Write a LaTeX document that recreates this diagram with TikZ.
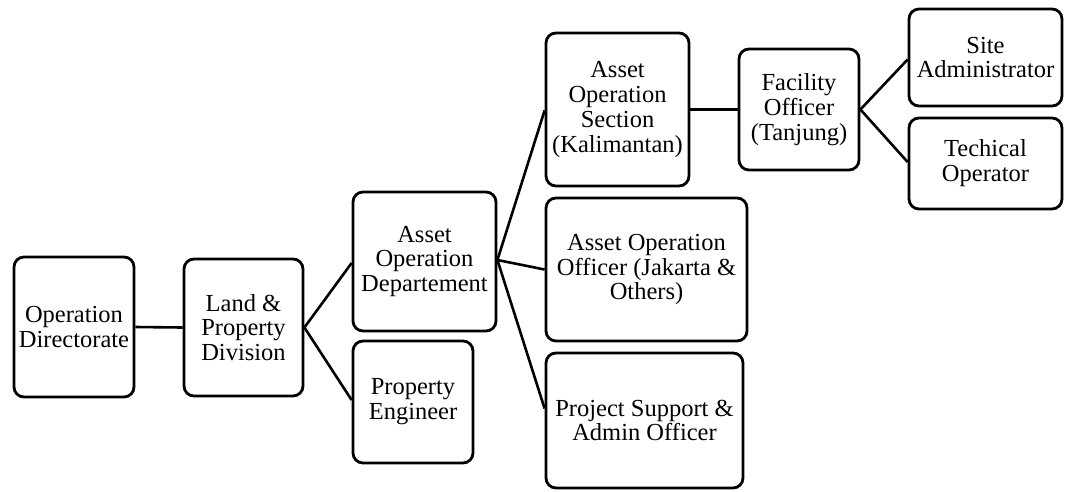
\documentclass[tikz,border=0pt]{standalone}
\usepackage{fontspec}
\setmainfont{Liberation Serif}
\begin{document}
\begin{tikzpicture}[x=1pt,y=-1pt,
  box/.style={draw=black,line width=2.8pt,rounded corners=10pt,align=center,inner sep=0pt,
    font=\fontsize{24.5}{24.8}\selectfont},
  link/.style={draw=black,line width=2.6pt}]
\useasboundingbox (0,0) rectangle (1065,491);
\node[box,minimum width=120,minimum height=140] (od) at (74,327) {Operation\\Directorate};
\node[box,minimum width=119,minimum height=137] (lpd) at (243.5,327.5) {Land \&\\Property\\Division};
\node[box,minimum width=143,minimum height=139] (aod) at (424.5,261.5) {Asset\\Operation\\Departement};
\node[box,minimum width=120,minimum height=122] (pe) at (413,402) {Property\\Engineer};
\node[box,minimum width=143,minimum height=153] (aos) at (617.5,109.5) {Asset\\Operation\\Section\\(Kalimantan)};
\node[box,minimum width=201,minimum height=143] (aoo) at (646.5,269.5) {Asset Operation\\Officer (Jakarta \&\\Others)};
\node[box,minimum width=197,minimum height=135] (psao) at (644.5,420.5) {Project Support \&\\Admin Officer};
\node[box,minimum width=120,minimum height=121] (fo) at (799,109.5) {Facility\\Officer\\(Tanjung)};
\node[box,minimum width=153,minimum height=97] (sa) at (985.5,57.5) {Site\\Administrator};
\node[box,minimum width=153,minimum height=91] (to) at (985.5,163.5) {Techical\\Operator};
\draw[link] (od.east) -- (lpd.east -| lpd.west);
\draw[link] (lpd.east) -- ([yshift=-1.5pt]aod.west);
\draw[link] (lpd.east) -- ([yshift=2pt]pe.west);
\draw[link] ([yshift=1.5pt]aod.east) -- ([yshift=-1pt]aos.west);
\draw[link] ([yshift=1.5pt]aod.east) -- (aoo.west);
\draw[link] ([yshift=1.5pt]aod.east) -- ([yshift=12pt]psao.west);
\draw[link] (aos.east |- fo.west) -- (fo.west);
\draw[link] (fo.east) -- ([yshift=-2pt]sa.west);
\draw[link] (fo.east) -- ([yshift=1.5pt]to.west);
\end{tikzpicture}
\end{document}
